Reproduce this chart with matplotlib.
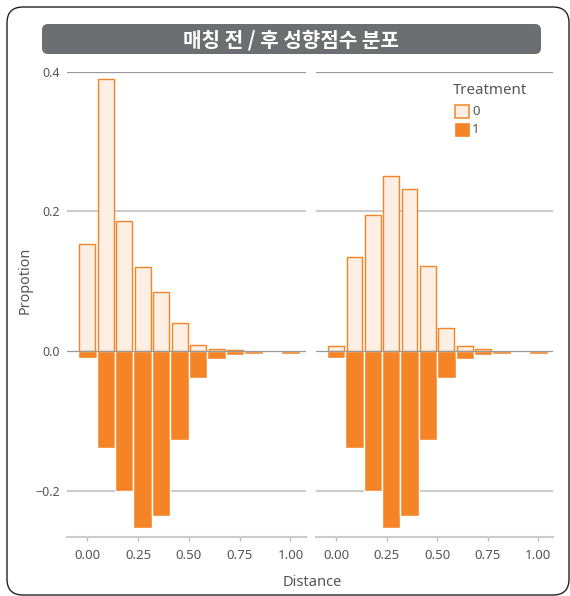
import matplotlib.pyplot as plt
import matplotlib.patches as mpatches
import matplotlib.transforms as mtransforms
import numpy as np

# 1. Daten (Histogramm-Anteile je Bin)
bin_mitten = [0.0, 0.0909, 0.1818, 0.2727, 0.3636, 0.4545, 0.5455, 0.6364, 0.7273, 0.8182, 0.9091, 1.0]
vor_t0 = [0.153, 0.390, 0.186, 0.120, 0.084, 0.040, 0.009, 0.0025, 0.001, 0.0, 0.0, 0.0]
vor_t1 = [0.0095, 0.1385, 0.2005, 0.2535, 0.236, 0.127, 0.038, 0.011, 0.0055, 0.004, 0.0, 0.004]
nach_t0 = [0.0075, 0.135, 0.1945, 0.250, 0.2325, 0.1215, 0.0325, 0.0065, 0.0022, 0.0, 0.0, 0.0]
nach_t1 = [0.0095, 0.1385, 0.2005, 0.2535, 0.236, 0.127, 0.038, 0.011, 0.0055, 0.004, 0.0, 0.004]

x_ticks = [0.0, 0.25, 0.5, 0.75, 1.0]
x_labels = ['0.00', '0.25', '0.50', '0.75', '1.00']
y_ticks = [0.4, 0.2, 0.0, -0.2]
y_labels = ['0.4', '0.2', '0.0', '\u22120.2']
legende_labels = ['0', '1']

titel = '매칭 전 / 후 성향점수 분포'
orange = '#F58426'
hell = '#FDEFE3'
textfarbe = '#555555'

plt.rcParams['font.family'] = ['Noto Sans', 'Noto Sans CJK KR', 'DejaVu Sans']

# 2. Grafik erstellen
W, H = 570, 596
fig = plt.figure(figsize=(W / 100, H / 100), dpi=100)
pixel = mtransforms.IdentityTransform()

# Rahmen und Titelbalken (in Pixeln)
rahmen = mpatches.FancyBboxPatch((7, 1), 562, 588, boxstyle='round,pad=0,rounding_size=16',
                                 transform=pixel, facecolor='none', edgecolor='#222222',
                                 linewidth=1.0)
fig.add_artist(rahmen)
balken = mpatches.FancyBboxPatch((42, H - 54), 499, 30, boxstyle='round,pad=0,rounding_size=6',
                                 transform=pixel, facecolor='#6D6E71', edgecolor='none')
fig.add_artist(balken)
fig.text(291 / W, 1 - 39.5 / H, titel, color='white', fontsize=14.5, fontweight='bold',
         ha='center', va='center', family=['Noto Sans CJK KR', 'DejaVu Sans'])

ax_unten = 1 - 536.7 / H
ax_hoehe = (536.7 - 71.7) / H
ax1 = fig.add_axes([67 / W, ax_unten, 238.5 / W, ax_hoehe])
ax2 = fig.add_axes([315.8 / W, ax_unten, 237.5 / W, ax_hoehe])

for ax, t0, t1 in [(ax1, vor_t0, vor_t1), (ax2, nach_t0, nach_t1)]:
    # Hilfslinien
    for y in [0.2, -0.2]:
        ax.axhline(y, color='#CCCCCC', linewidth=1.5, zorder=0)
    ax.axhline(0.4, color='#999999', linewidth=0.9, zorder=0)

    x0 = [x for x, v in zip(bin_mitten, t0) if v > 0]
    v0 = [v for v in t0 if v > 0]
    x1 = [x for x, v in zip(bin_mitten, t1) if v > 0]
    v1 = [-v for v in t1 if v > 0]
    ax.bar(x1, v1, width=0.0909, color=orange, edgecolor='white', linewidth=1.0, zorder=2)
    ax.bar(x0, v0, width=0.078, color=hell, edgecolor=orange, linewidth=1.0, zorder=2)
    ax.axhline(0, color='#999999', linewidth=0.9, zorder=3)

    ax.set_xlim(-0.1, 1.074)
    ax.set_ylim(-0.266, 0.4)
    for s in ['top', 'right', 'left']:
        ax.spines[s].set_visible(False)
    ax.spines['bottom'].set_color('#CCCCCC')
    ax.spines['bottom'].set_linewidth(1.5)
    ax.set_xticks(x_ticks)
    ax.set_xticklabels(x_labels)
    ax.tick_params(axis='x', colors='#BBBBBB', length=3, width=1, pad=6, labelsize=9.5,
                   labelcolor=textfarbe)
    ax.set_yticks(y_ticks)
    ax.tick_params(axis='y', length=0, pad=5, labelsize=9, labelcolor=textfarbe)
    ax.patch.set_alpha(0)

ax1.set_yticklabels(y_labels)
ax2.set_yticklabels([])

# Achsenbeschriftungen
fig.text(25 / W, 1 - 280 / H, 'Propotion', rotation=90, ha='center', va='center',
         fontsize=10.3, color=textfarbe)
fig.text(312 / W, 1 - 582 / H, 'Distance', ha='center', va='center',
         fontsize=10.6, color=textfarbe)

# Legende (von Hand gesetzt)
fig.text(453 / W, 1 - 90 / H, 'Treatment', ha='left', va='center',
         fontsize=10.8, color=textfarbe)
stile = [dict(facecolor=hell, edgecolor=orange, linewidth=1.1),
         dict(facecolor=orange, edgecolor=orange, linewidth=0.5)]
for i, (lab, st) in enumerate(zip(legende_labels, stile)):
    oben = 104.5 + i * 18.4
    fig.add_artist(mpatches.Rectangle((455, H - oben - 13.5), 13.5, 13.5, transform=pixel, **st))
    fig.text(472 / W, 1 - (oben + 7) / H, lab, ha='left', va='center',
             fontsize=9.5, color=textfarbe)

plt.savefig('out.png', dpi=100)
